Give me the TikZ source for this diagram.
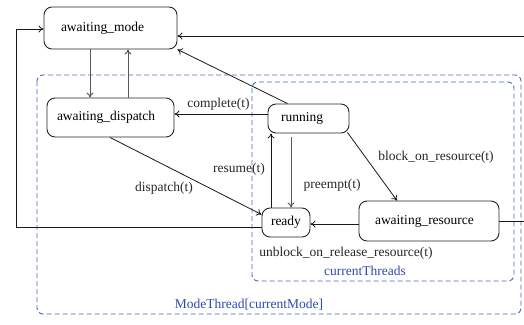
\documentclass[tikz,border=0pt]{standalone}
\usepackage{fontspec}
\setmainfont{Liberation Serif}
\usetikzlibrary{arrows.meta}
\definecolor{dblue}{RGB}{75,105,190}
\definecolor{tblue}{RGB}{45,75,175}
\tikzset{
  state/.style={draw=black!85, line width=0.9pt, rounded corners=8pt, align=left, inner ysep=0pt, font=\fontsize{13.5}{16}\selectfont},
  lbl/.style={font=\fontsize{13.5}{16}\selectfont, text=black!85, inner sep=0pt},
  blbl/.style={font=\fontsize{13.5}{16}\selectfont, text=tblue, inner sep=0pt},
  arr/.style={draw=black!90, line width=0.8pt, -{To[length=5pt,width=7pt]}},
  garr/.style={draw=black!65, line width=1pt, -{To[length=5pt,width=7pt]}},
  ln/.style={draw=black!90, line width=0.8pt},
  region/.style={draw=dblue, line width=0.9pt, dash pattern=on 5pt off 3pt, rounded corners=6pt}
}
\begin{document}
\begin{tikzpicture}[x=1pt,y=-1pt]
\useasboundingbox (0,0) rectangle (524,324);
\clip (0,0) rectangle (524,324);
% regions
\draw[region] (37,75) rectangle (521,314);
\draw[region] (252,82) rectangle (514,281);
% states
\node[state, inner xsep=17pt, text width=99pt, minimum height=42pt] (amode) at (110.5,28) {awaiting\_mode};
\node[state, inner xsep=10pt, text width=107pt, minimum height=39pt] (adisp) at (110.5,117.5) {awaiting\_dispatch};
\node[state, inner xsep=13pt, text width=55pt, minimum height=29pt] (running) at (308.5,118.5) {running};
\node[state, inner xsep=9pt, text width=30pt, minimum height=29pt] (ready) at (286,222.5) {ready};
\node[state, inner xsep=16pt, text width=108pt, minimum height=40pt] (ares) at (429,221) {awaiting\_resource};
% coordinates
\coordinate (l1) at (16,227);
\coordinate (l2) at (16,29);
\coordinate (r1) at (540,221);
\coordinate (r2) at (540,36);
\coordinate (xa) at (90,0);
\coordinate (xb) at (128,0);
\coordinate (yc) at (0,114);
\coordinate (xr) at (271,0);
\coordinate (xp) at (291,0);
\coordinate (xq) at (397,0);
\coordinate (xd) at (110,0);
% connectors
\draw[arr] (ready.west |- l1) -- (l1) -- (l2) -- (amode.west |- l2);
\draw[arr] (ares.east) -- (r1) -- (r2) -- (amode.east |- r2);
\draw[arr] ([xshift=-21pt]running.north) -- (amode.south east);
\draw[garr] (amode.south -| xa) -- (adisp.north -| xa);
\draw[garr] (adisp.north -| xb) -- (amode.south -| xb);
\draw[arr] (running.west |- yc) -- (adisp.east |- yc);
\draw[arr] (adisp.south -| xd) -- ([yshift=8pt]ready.west);
\draw[arr] (ready.north -| xr) -- (running.south -| xr);
\draw[garr] ([yshift=-4pt]running.south -| xp) -- (ready.north -| xp);
\draw[arr] ([xshift=-2pt,yshift=1pt]running.south east) -- (ares.north -| xq);
\draw[arr] (ares.west |- 0,224) -- (ready.east |- 0,224);
% labels
\node[lbl] (lcomplete) at (218.5,104) {complete(t)};
\node[lbl] (ldispatch) at (164,188) {dispatch(t)};
\node[lbl] (lresume) at (239,169) {resume(t)};
\node[lbl] (lpreempt) at (332,185) {preempt(t)};
\node[lbl] (lblock) at (436,157) {block\_on\_resource(t)};
\node[lbl] (lunblock) at (346,253) {unblock\_on\_release\_resource(t)};
\node[blbl] (lthreads) at (365,271) {currentThreads};
\node[blbl] (lmode) at (249,305) {ModeThread[currentMode]};
\end{tikzpicture}
\end{document}
